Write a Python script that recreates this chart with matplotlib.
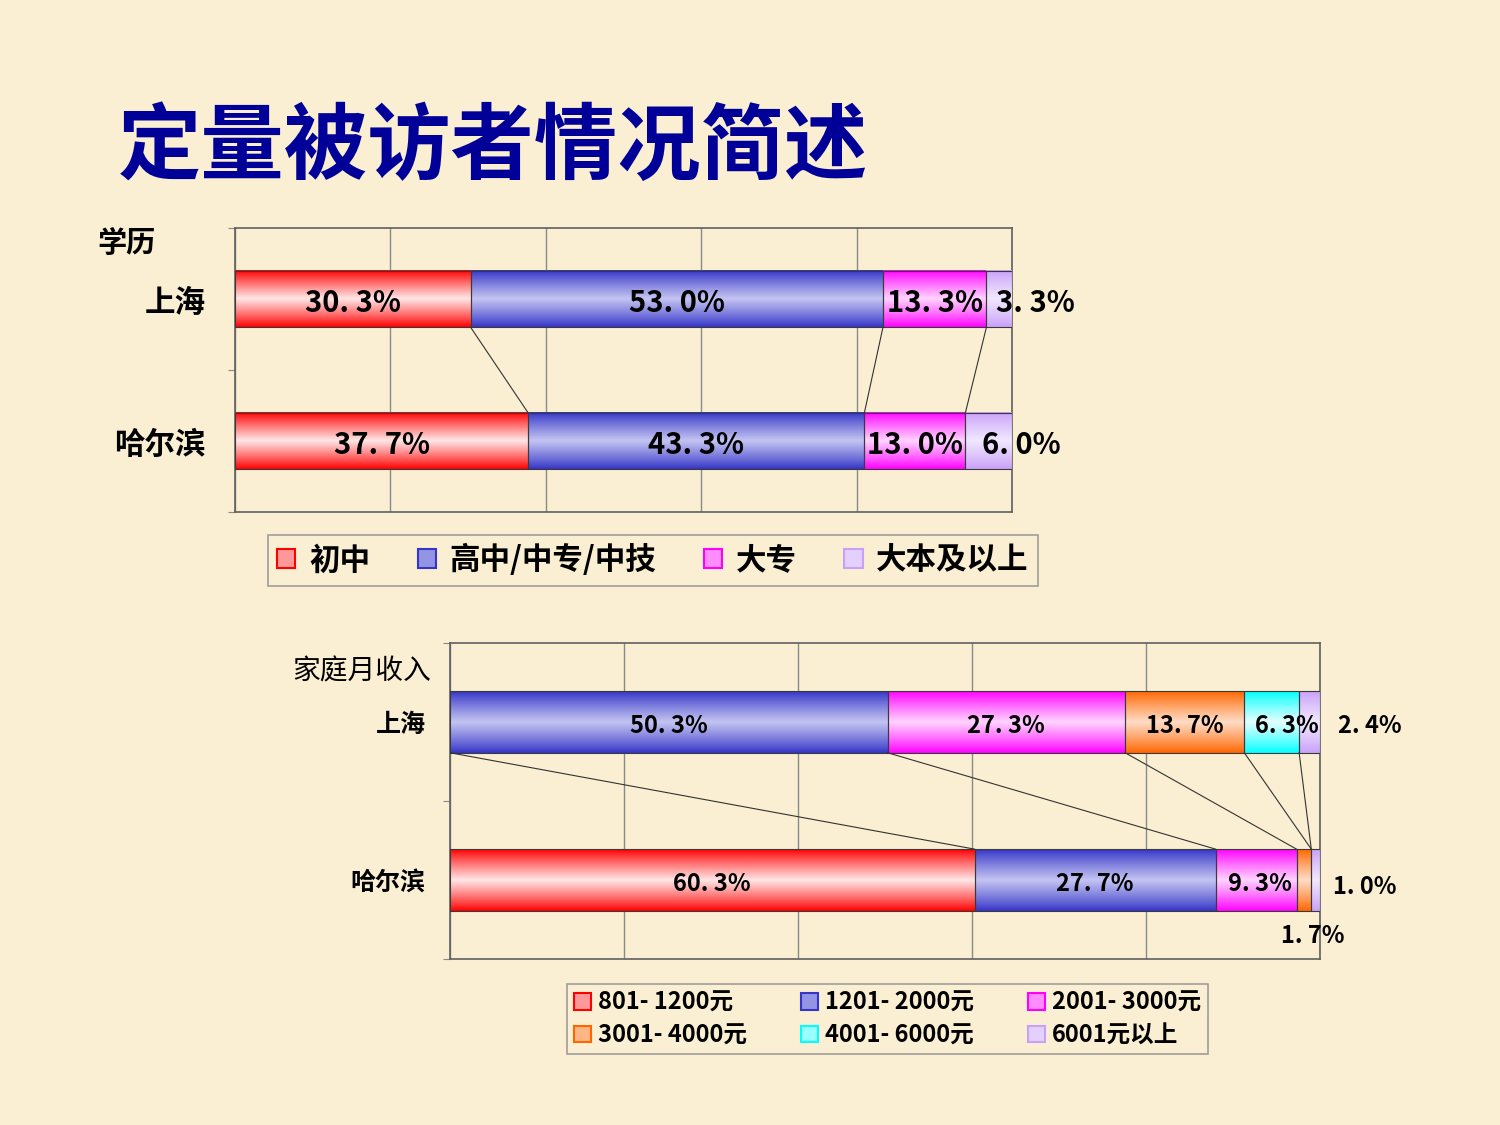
import numpy as np
import matplotlib.pyplot as plt
from matplotlib.patches import Patch
from matplotlib.colors import to_rgb

plt.rcParams['font.family'] = ['Noto Sans CJK SC', 'DejaVu Sans']

# ---- data ----
title = '定量被访者情况简述'
cities = ['上海', '哈尔滨']

edu_title = '学历'
edu_labels = ['初中', '高中/中专/中技', '大专', '大本及以上']
edu_shanghai = [30.3, 53.0, 13.3, 3.3]
edu_harbin = [37.7, 43.3, 13.0, 6.0]

inc_title = '家庭月收入'
inc_labels = ['801- 1200元', '1201- 2000元', '2001- 3000元',
              '3001- 4000元', '4001- 6000元', '6001元以上']
inc_shanghai = [0.0, 50.3, 27.3, 13.7, 6.3, 2.4]
inc_harbin = [60.3, 27.7, 9.3, 1.7, 0.0, 1.0]

# ---- styles ----
bg = '#FAEFD3'
red = ('#FF0000', '#FFE6E6')
blue = ('#3535C8', '#C4C4F2')
magenta = ('#FF00FF', '#FFD4FF')
lavender = ('#C9A0F8', '#F1E8FF')
orange = ('#FF6600', '#FFDCC6')
cyan = ('#00FFFF', '#E6FFFF')

edu_colors = [red, blue, magenta, lavender]
inc_colors = [red, blue, magenta, orange, cyan, lavender]

# label nudges (data units): (row, segment) -> (dx, dy); row 0 = 上海, row 1 = 哈尔滨
edu_nudge = {(0, 3): (4.6, 0), (1, 3): (4.2, 0)}
inc_nudge = {(0, 4): (1.8, 0), (0, 5): (6.9, 0), (1, 2): (0.4, 0),
             (1, 3): (1.0, -0.33), (1, 5): (5.6, -0.02)}


def pct(v):
    return f'{v:.1f}%'.replace('.', '. ')


def gradient(base, light, n=64):
    t = np.linspace(0, 1, n)
    m = (1 - np.abs(2 * t - 1)) ** 0.9
    b = np.array(to_rgb(base))
    l = np.array(to_rgb(light))
    return (b[None, :] * (1 - m[:, None]) + l[None, :] * m[:, None])[:, None, :]


def mid(c):
    return tuple((np.array(to_rgb(c[0])) + 2 * np.array(to_rgb(c[1]))) / 3)


def stacked(ax, rows, colors, h, fs, nudge, line_y, ty):
    # rows: list of (ypos, values)
    ends = []
    for r, (y, vals) in enumerate(rows):
        vals = np.array(vals) / np.sum(vals) * 100
        left = 0
        row_ends = []
        for i, v in enumerate(vals):
            if v > 0:
                bar = ax.barh(y, v, left=left, height=h, facecolor='none',
                              edgecolor='#3a3a3a', lw=0.8, zorder=4)[0]
                x0, y0 = bar.get_xy()
                ax.imshow(gradient(*colors[i]), extent=[x0, x0 + bar.get_width(), y0, y0 + bar.get_height()],
                          aspect='auto', origin='lower', interpolation='bilinear', zorder=3)
                dx, dy = nudge.get((r, i), (0, 0))
                ax.text(left + v / 2 + dx, y + dy + ty, pct(rows[r][1][i]), ha='center', va='center',
                        fontsize=fs, fontweight='bold', color='black', zorder=5)
            left += v
            row_ends.append(left)
        ends.append(row_ends)
    # series lines between the two bars
    top, bot = ends[0], ends[1]
    for i in range(len(top) - 1):
        ax.plot([top[i], bot[i]], line_y, color='#333333', lw=0.8, zorder=4)


def frame(ax):
    ax.set_xlim(0, 100)
    ax.set_ylim(-0.5, 1.5)
    ax.set_facecolor('none')
    ax.set_xticks([0, 20, 40, 60, 80, 100])
    ax.set_xticklabels([])
    ax.tick_params(axis='x', length=0)
    ax.set_yticks([-0.5, 0.5, 1.5])
    ax.set_yticklabels([])
    ax.tick_params(axis='y', length=5, color='#888888', direction='out')
    ax.grid(axis='x', color='#8a8a8a', lw=1, zorder=1)
    for s in ax.spines.values():
        s.set_color('#606060')
        s.set_linewidth(1.2)


fig = plt.figure(figsize=(15, 11.25), dpi=100)
fig.patch.set_facecolor(bg)

fig.text(0.0787, 0.868, title, fontsize=60, fontweight='bold', color='#000099',
         ha='left', va='center')

# ---- education ----
ax1 = fig.add_axes([0.1567, 0.5449, 0.518, 0.2524])
frame(ax1)
h1 = 0.4
stacked(ax1, [(1, edu_shanghai), (0, edu_harbin)], edu_colors, h1, 21, edu_nudge,
        [1 - h1 / 2, h1 / 2], -0.025)
for y, c in zip([1, 0], cities):
    ax1.text(-0.038, y - 0.03, c, transform=ax1.get_yaxis_transform(), ha='right', va='center',
             fontsize=22, fontweight='bold')
fig.text(0.0647, 1 - 243 / 1125, edu_title, fontsize=21, fontweight='bold', ha='left', va='center')

h_edu = [Patch(facecolor=mid(c), edgecolor=c[0], lw=1.5) for c in edu_colors]
leg1 = fig.legend(h_edu, edu_labels, loc='center', bbox_to_anchor=(0.4353, 0.502), ncol=4,
                  prop={'size': 22, 'weight': 'bold'}, frameon=True, fancybox=False,
                  handlelength=0.6, handleheight=0.6, handletextpad=0.45, columnspacing=1.55,
                  borderpad=0.3, edgecolor='#8a8a8a', facecolor='none')
leg1.get_frame().set_linewidth(1.2)

# ---- income ----
ax2 = fig.add_axes([0.3, 0.1476, 0.58, 0.2809])
frame(ax2)
h2 = 0.39
stacked(ax2, [(1, inc_shanghai), (0, inc_harbin)], inc_colors, h2, 17, inc_nudge,
        [1 - h2 / 2, h2 / 2], -0.025)
for y, c in zip([1, 0], cities):
    ax2.text(-0.028, y - 0.02, c, transform=ax2.get_yaxis_transform(), ha='right', va='center',
             fontsize=18, fontweight='bold')
fig.text(0.1947, 0.4035, inc_title, fontsize=20, ha='left', va='center')

order = [0, 3, 1, 4, 2, 5]
h_inc = [Patch(facecolor=mid(inc_colors[i]), edgecolor=inc_colors[i][0], lw=1.5) for i in order]
leg2 = fig.legend(h_inc, [inc_labels[i] for i in order], loc='center', bbox_to_anchor=(0.5917, 0.0942),
                  ncol=3, prop={'size': 17, 'weight': 'bold'}, frameon=True, fancybox=False,
                  handlelength=0.7, handleheight=0.7, handletextpad=0.3, columnspacing=2.3,
                  borderpad=0.3, labelspacing=0.35, edgecolor='#8a8a8a', facecolor='none')
leg2.get_frame().set_linewidth(1.2)

fig.savefig('out.png', dpi=100, facecolor=bg)
